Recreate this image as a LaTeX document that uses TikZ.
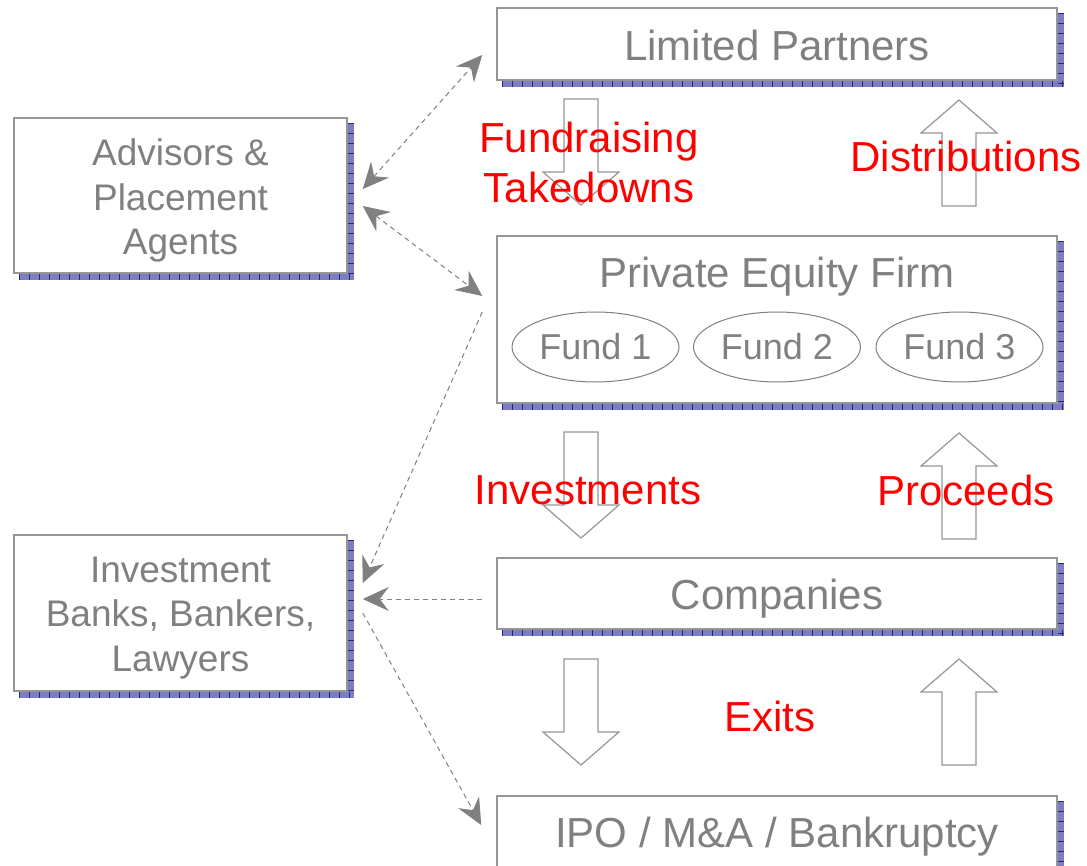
\documentclass[tikz,border=0pt]{standalone}
\usepackage{fontspec}
\setmainfont{Liberation Sans}
\usetikzlibrary{arrows.meta,shapes.geometric,calc,backgrounds}
\definecolor{txtgray}{RGB}{128,128,128}
\definecolor{linegray}{RGB}{150,150,150}
\definecolor{shadowfill}{RGB}{125,125,195}
\definecolor{shadowtick}{RGB}{40,40,120}
\definecolor{labelred}{RGB}{255,0,0}
\newcommand\boxshadow[1]{%
  \fill[shadowfill] ([shift={(6,6)}]#1.north west) rectangle ([shift={(6,6)}]#1.south east);
  \draw[shadowtick, line width=6pt, dash pattern=on 1pt off 9pt] ([shift={(6,3)}]#1.south west) -- ([shift={(6,3)}]#1.south east);
  \draw[shadowtick, line width=6pt, dash pattern=on 1pt off 9pt] ([shift={(3,6)}]#1.north east) -- ([shift={(3,6)}]#1.south east);
}
\newcommand\blkdown[2]{\draw[blockarrow] (#1-17,#2) -- (#1+17,#2) -- (#1+17,#2+73) -- (#1+38,#2+73) -- (#1,#2+106) -- (#1-38,#2+73) -- (#1-17,#2+73) -- cycle;}
\newcommand\blkup[2]{\draw[blockarrow] (#1,#2) -- (#1+38,#2+33) -- (#1+17,#2+33) -- (#1+17,#2+106) -- (#1-17,#2+106) -- (#1-17,#2+33) -- (#1-38,#2+33) -- cycle;}
\begin{document}
\begin{tikzpicture}[x=1pt,y=-1pt,
  box/.style={draw=linegray, line width=1.5pt, fill=white, inner sep=0pt},
  bigtext/.style={text=txtgray, font=\fontsize{42}{50}\selectfont, inner sep=0pt},
  sidetext/.style={text=txtgray, font=\fontsize{37}{44.5}\selectfont, align=center, inner sep=0pt},
  fund/.style={ellipse, draw=txtgray, line width=1pt, minimum width=167pt, minimum height=70pt, inner sep=0pt, text=txtgray, font=\fontsize{36}{43}\selectfont},
  redlabel/.style={text=labelred, font=\fontsize{42}{50}\selectfont, align=center, inner sep=0pt},
  blockarrow/.style={draw=linegray, line width=1.2pt, fill=white},
  conn/.style={draw=txtgray, line width=1pt, dash pattern=on 5pt off 4pt, >={Stealth[length=26pt,width=24pt,inset=9pt]}}
]
\useasboundingbox (0,0) rectangle (1087,866);

% boxes
\node[box, minimum width=560pt, minimum height=72pt] (lp) at (777,44) {};
\node[box, minimum width=560pt, minimum height=167pt] (pef) at (777,319.5) {};
\node[box, minimum width=560pt, minimum height=71pt] (comp) at (777,593.5) {};
\node[box, minimum width=560pt, minimum height=72pt] (ipo) at (777,832) {};
\node[box, minimum width=333pt, minimum height=155pt] (adv) at (180.5,195.5) {};
\node[box, minimum width=333pt, minimum height=156pt] (ib) at (180.5,613) {};

% box texts
\node[bigtext] (lpt) at (777,45) {Limited Partners};
\node[bigtext] (compt) at (777,598.5) {Companies};
\node[bigtext] (ipot) at (777,837) {IPO / M\&A / Bankruptcy};
\node[sidetext] (advt) at (180.5,200.5) {Advisors \&\\Placement\\Agents};
\node[sidetext] (ibt) at (180.5,618) {Investment\\Banks, Bankers,\\Lawyers};

% PE firm contents
\node[bigtext] (peft) at (777,277) {Private Equity Firm};
\node[fund] (f1) at (595.5,347) {Fund 1};
\node[fund] (f2) at (777,347) {Fund 2};
\node[fund] (f3) at (959.5,347) {Fund 3};

\begin{scope}[on background layer]
  \boxshadow{lp}
  \boxshadow{pef}
  \boxshadow{comp}
  \boxshadow{ipo}
  \boxshadow{adv}
  \boxshadow{ib}
\end{scope}

% block arrows
\blkdown{581}{99}
\blkup{959}{100}
\blkdown{581}{432}
\blkup{959}{433}
\blkdown{581}{659}
\blkup{959}{659}

% red labels
\node[redlabel] (fund) at (589,162) {Fundraising\\Takedowns};
\node[redlabel] (dist) at (966,156) {Distributions};
\node[redlabel] (inv) at (588,490) {Investments};
\node[redlabel] (proc) at (966,490) {Proceeds};
\node[redlabel] (exits) at (769.5,716) {Exits};

% dashed connectors
\draw[conn, <->] ([shift={(15,-6.5)}]adv.east) -- ([shift={(-14,11)}]lp.west);
\draw[conn, <->] ([shift={(15,10.5)}]adv.east) -- ([shift={(-14,-23.5)}]pef.west);
\draw[conn, ->] ([shift={(-14,-7.5)}]pef.west) -- ([shift={(15,-30)}]ib.east);
\draw[conn, ->] ([shift={(-14,5.5)}]comp.west) -- ([shift={(15,-14)}]ib.east);
\draw[conn, ->] ([shift={(15,0)}]ib.east) -- ([shift={(-15,-7)}]ipo.west);
\end{tikzpicture}
\end{document}
